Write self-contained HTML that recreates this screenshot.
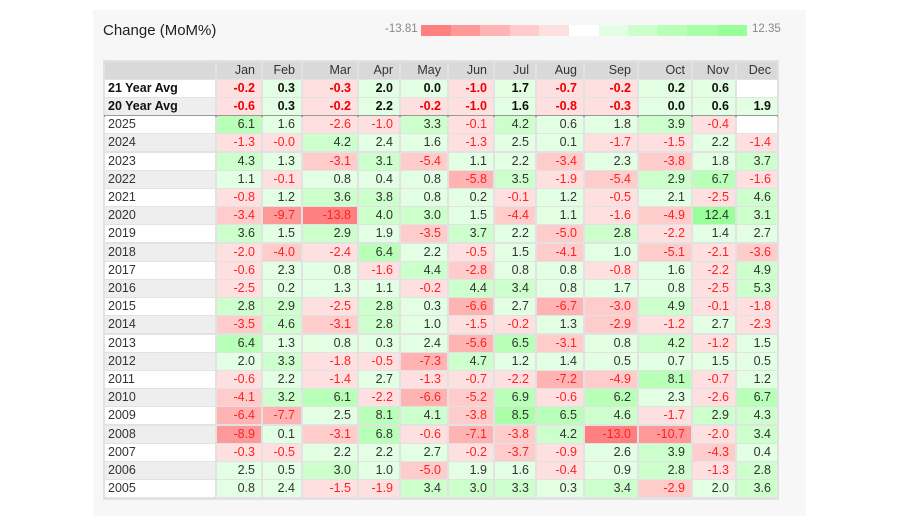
<!DOCTYPE html>
<html><head><meta charset="utf-8">
<style>
body{margin:0;background:#fff;width:900px;height:516px;overflow:hidden;font-family:"Liberation Sans",sans-serif;}
#card{position:absolute;left:93px;top:10px;width:713px;height:506px;background:#f7f7f7;}
#tblbg{position:absolute;left:103px;top:60px;width:676px;height:440px;background:#e2e2e2;}
#title{position:absolute;left:103px;top:22px;font-size:15px;color:#222;}
.lg{position:absolute;top:25px;height:11px;}
.lt{position:absolute;top:23px;font-size:11.5px;color:#888;}
#tbl{position:absolute;left:0;top:0;}
.c{position:absolute;box-sizing:border-box;font-size:12.5px;line-height:17px;text-align:right;padding-right:6px;color:#333;white-space:nowrap;}
.neg{color:#f22;}
.b{font-weight:bold;color:#111;}
.b.neg{color:#e00;}
.lab{text-align:left;padding-left:3px;}
</style></head><body>
<div id="card"></div>
<div id="tblbg"></div>
<div id="title">Change (MoM%)</div>
<div class="lt" style="left:385px">-13.81</div>
<div class="lt" style="left:752px">12.35</div>
<div id="legend"></div>
<div id="tbl"></div>
<script>
const months=["Jan","Feb","Mar","Apr","May","Jun","Jul","Aug","Sep","Oct","Nov","Dec"];
const avgLabels=["21 Year Avg","20 Year Avg"];
const avg21=[-0.2,0.3,-0.3,2.0,0.0,-1.0,1.7,-0.7,-0.2,0.2,0.6,null];
const avg20=[-0.6,0.3,-0.2,2.2,-0.2,-1.0,1.6,-0.8,-0.3,0.0,0.6,1.9];
const years=[2025,2024,2023,2022,2021,2020,2019,2018,2017,2016,2015,2014,2013,2012,2011,2010,2009,2008,2007,2006,2005];
const values=[
[6.1,1.6,-2.6,-1.0,3.3,-0.1,4.2,0.6,1.8,3.9,-0.4,null],
[-1.3,-0.0,4.2,2.4,1.6,-1.3,2.5,0.1,-1.7,-1.5,2.2,-1.4],
[4.3,1.3,-3.1,3.1,-5.4,1.1,2.2,-3.4,2.3,-3.8,1.8,3.7],
[1.1,-0.1,0.8,0.4,0.8,-5.8,3.5,-1.9,-5.4,2.9,6.7,-1.6],
[-0.8,1.2,3.6,3.8,0.8,0.2,-0.1,1.2,-0.5,2.1,-2.5,4.6],
[-3.4,-9.7,-13.8,4.0,3.0,1.5,-4.4,1.1,-1.6,-4.9,12.4,3.1],
[3.6,1.5,2.9,1.9,-3.5,3.7,2.2,-5.0,2.8,-2.2,1.4,2.7],
[-2.0,-4.0,-2.4,6.4,2.2,-0.5,1.5,-4.1,1.0,-5.1,-2.1,-3.6],
[-0.6,2.3,0.8,-1.6,4.4,-2.8,0.8,0.8,-0.8,1.6,-2.2,4.9],
[-2.5,0.2,1.3,1.1,-0.2,4.4,3.4,0.8,1.7,0.8,-2.5,5.3],
[2.8,2.9,-2.5,2.8,0.3,-6.6,2.7,-6.7,-3.0,4.9,-0.1,-1.8],
[-3.5,4.6,-3.1,2.8,1.0,-1.5,-0.2,1.3,-2.9,-1.2,2.7,-2.3],
[6.4,1.3,0.8,0.3,2.4,-5.6,6.5,-3.1,0.8,4.2,-1.2,1.5],
[2.0,3.3,-1.8,-0.5,-7.3,4.7,1.2,1.4,0.5,0.7,1.5,0.5],
[-0.6,2.2,-1.4,2.7,-1.3,-0.7,-2.2,-7.2,-4.9,8.1,-0.7,1.2],
[-4.1,3.2,6.1,-2.2,-6.6,-5.2,6.9,-0.6,6.2,2.3,-2.6,6.7],
[-6.4,-7.7,2.5,8.1,4.1,-3.8,8.5,6.5,4.6,-1.7,2.9,4.3],
[-8.9,0.1,-3.1,6.8,-0.6,-7.1,-3.8,4.2,-13.0,-10.7,-2.0,3.4],
[-0.3,-0.5,2.2,2.2,2.7,-0.2,-3.7,-0.9,2.6,3.9,-4.3,0.4],
[2.5,0.5,3.0,1.0,-5.0,1.9,1.6,-0.4,0.9,2.8,-1.3,2.8],
[0.8,2.4,-1.5,-1.9,3.4,3.0,3.3,0.3,3.4,-2.9,2.0,3.6]];
const minV=-13.81,maxV=12.35;
const reds=["#ffe0e0","#ffcccc","#ffb3b3","#ff9999","#ff8080"];
const greens=["#e3ffe3","#ccffcc","#b8ffb8","#a8ffa8","#99ff99"];
const step=-minV/5;
function color(v){
  if(v===null) return "#fff";
  if(v<0||Object.is(v,-0)){let i=Math.min(4,Math.floor(-v/step));return reds[i];}
  let i=Math.min(4,Math.floor(v/step));return greens[i];
}
const lg=document.getElementById('legend');
const legCols=[...reds.slice().reverse(),"#fff",...greens];
legCols.forEach((c,i)=>{const d=document.createElement('div');d.className='lg';
d.style.left=(421+i*29.6)+'px';d.style.width='30px';d.style.background=c;


lg.appendChild(d);});
const edges=[104,216,262,302,358,400,448,494,536,584,638,692,736,778];
const top0=61,pitch=18.2;
const T=document.getElementById('tbl');
function cell(row,col,text,cls,bg){
  const d=document.createElement('div');d.className='c '+cls;
  d.style.left=(edges[col]+1)+'px';d.style.width=(edges[col+1]-edges[col]-2)+'px';
  d.style.top=(top0+row*pitch+0.6)+'px';d.style.height='17px';d.style.background=bg;
  d.textContent=text;
  
  
  T.appendChild(d);
}
cell(0,0,'', '', '#d9d9d9');
months.forEach((m,i)=>cell(0,i+1,m,'','#d9d9d9'));
[avg21,avg20].forEach((arr,r)=>{
  cell(r+1,0,avgLabels[r],'lab b',r%2?'#eee':'#fff');
  arr.forEach((v,i)=>cell(r+1,i+1,v===null?'':v.toFixed(1),'b'+(v<0?' neg':''),color(v)));
});
const sep=document.createElement('div');
sep.style.cssText='position:absolute;left:104px;width:674px;height:2px;background:#999;top:'+(top0+3*pitch-0.5)+'px';


T.appendChild(sep);
years.forEach((y,r)=>{
  const row=r+3;
  cell(row,0,String(y),'lab',r%2?'#eee':'#fff');
  values[r].forEach((v,i)=>{
    const neg=v!==null&&(v<0||Object.is(v,-0));
    const t=v===null?'':(Object.is(v,-0)?'-0.0':v.toFixed(1));
    cell(row,i+1,t,neg?'neg':'',color(v));
  });
});
</script>
</body></html>
